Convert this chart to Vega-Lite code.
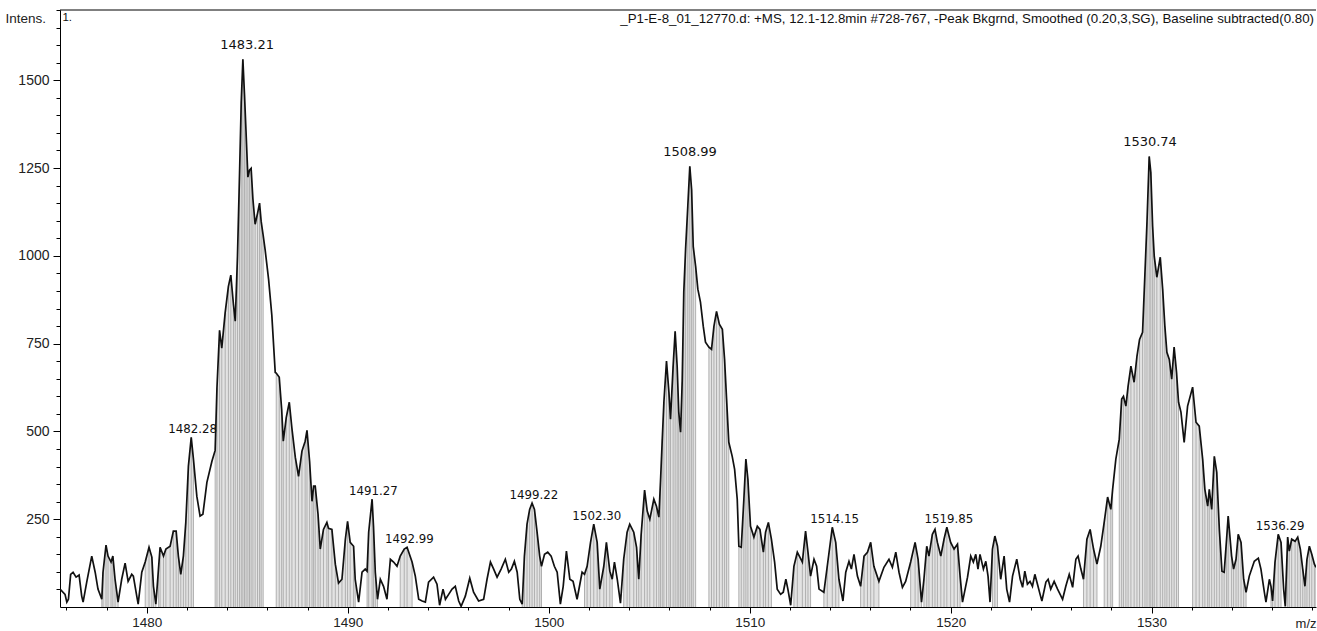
{
"$schema": "https://vega.github.io/schema/vega-lite/v6.json",
"width": 1256,
"height": 597,
"autosize": {"type": "none"},
"padding": {"left": 60, "top": 10, "right": 1, "bottom": 24},
"background": "white",
"config": {"view": {"stroke": null}, "font": "Liberation Sans"},
"datasets": {
"trace": [
{"mz":1475.68,"i":51,"g":0},{"mz":1475.93,"i":36,"g":0},{"mz":1476.02,"i":14,"g":0},{"mz":1476.10,"i":22,"g":0},{"mz":1476.21,"i":93,"g":0},{"mz":1476.33,"i":99,"g":0},{"mz":1476.48,"i":85,"g":0},{"mz":1476.63,"i":91,"g":0},{"mz":1476.76,"i":31,"g":0},{"mz":1476.83,"i":14,"g":0},
{"mz":1477.01,"i":71,"g":0},{"mz":1477.26,"i":145,"g":0},{"mz":1477.43,"i":99,"g":0},{"mz":1477.57,"i":51,"g":0},{"mz":1477.76,"i":22,"g":1},{"mz":1477.82,"i":99,"g":1},{"mz":1477.97,"i":176,"g":1},{"mz":1478.07,"i":145,"g":1},{"mz":1478.22,"i":128,"g":1},{"mz":1478.31,"i":145,"g":1},
{"mz":1478.42,"i":79,"g":1},{"mz":1478.57,"i":14,"g":1},{"mz":1478.75,"i":79,"g":0},{"mz":1478.92,"i":125,"g":0},{"mz":1479.07,"i":73,"g":0},{"mz":1479.25,"i":93,"g":0},{"mz":1479.33,"i":88,"g":0},{"mz":1479.50,"i":31,"g":0},{"mz":1479.57,"i":8,"g":0},{"mz":1479.75,"i":99,"g":0},
{"mz":1479.92,"i":128,"g":2},{"mz":1480.11,"i":170,"g":2},{"mz":1480.25,"i":142,"g":2},{"mz":1480.33,"i":59,"g":2},{"mz":1480.45,"i":8,"g":2},{"mz":1480.58,"i":108,"g":3},{"mz":1480.66,"i":170,"g":3},{"mz":1480.83,"i":145,"g":3},{"mz":1480.95,"i":165,"g":3},{"mz":1481.16,"i":173,"g":3},
{"mz":1481.32,"i":216,"g":3},{"mz":1481.46,"i":216,"g":3},{"mz":1481.57,"i":145,"g":3},{"mz":1481.69,"i":93,"g":3},{"mz":1481.82,"i":145,"g":3},{"mz":1481.94,"i":241,"g":3},{"mz":1482.07,"i":401,"g":3},{"mz":1482.21,"i":483,"g":3},{"mz":1482.32,"i":421,"g":3},{"mz":1482.49,"i":315,"g":0},
{"mz":1482.65,"i":259,"g":0},{"mz":1482.79,"i":264,"g":0},{"mz":1482.99,"i":355,"g":0},{"mz":1483.24,"i":415,"g":0},{"mz":1483.40,"i":446,"g":4},{"mz":1483.49,"i":623,"g":4},{"mz":1483.62,"i":788,"g":4},{"mz":1483.73,"i":737,"g":4},{"mz":1483.90,"i":839,"g":4},{"mz":1484.06,"i":913,"g":4},
{"mz":1484.18,"i":945,"g":4},{"mz":1484.31,"i":862,"g":4},{"mz":1484.40,"i":814,"g":4},{"mz":1484.51,"i":996,"g":4},{"mz":1484.61,"i":1224,"g":4},{"mz":1484.70,"i":1440,"g":4},{"mz":1484.78,"i":1560,"g":4},{"mz":1484.86,"i":1460,"g":4},{"mz":1484.94,"i":1349,"g":4},{"mz":1485.03,"i":1224,"g":4},
{"mz":1485.11,"i":1244,"g":4},{"mz":1485.19,"i":1249,"g":4},{"mz":1485.28,"i":1161,"g":4},{"mz":1485.39,"i":1090,"g":4},{"mz":1485.51,"i":1121,"g":4},{"mz":1485.61,"i":1150,"g":4},{"mz":1485.69,"i":1098,"g":4},{"mz":1485.79,"i":1058,"g":4},{"mz":1485.89,"i":1016,"g":0},{"mz":1486.06,"i":933,"g":0},
{"mz":1486.22,"i":831,"g":0},{"mz":1486.39,"i":668,"g":0},{"mz":1486.44,"i":666,"g":5},{"mz":1486.59,"i":654,"g":5},{"mz":1486.71,"i":563,"g":5},{"mz":1486.79,"i":472,"g":5},{"mz":1486.94,"i":540,"g":5},{"mz":1487.09,"i":583,"g":5},{"mz":1487.22,"i":509,"g":5},{"mz":1487.39,"i":426,"g":5},
{"mz":1487.55,"i":372,"g":5},{"mz":1487.72,"i":444,"g":5},{"mz":1487.88,"i":472,"g":5},{"mz":1487.97,"i":503,"g":5},{"mz":1488.10,"i":415,"g":5},{"mz":1488.22,"i":301,"g":5},{"mz":1488.30,"i":344,"g":5},{"mz":1488.38,"i":344,"g":5},{"mz":1488.52,"i":264,"g":5},{"mz":1488.63,"i":165,"g":5},
{"mz":1488.79,"i":221,"g":5},{"mz":1488.96,"i":241,"g":5},{"mz":1489.04,"i":224,"g":5},{"mz":1489.21,"i":221,"g":5},{"mz":1489.38,"i":122,"g":5},{"mz":1489.54,"i":68,"g":5},{"mz":1489.71,"i":79,"g":5},{"mz":1489.88,"i":193,"g":5},{"mz":1489.99,"i":244,"g":5},{"mz":1490.12,"i":184,"g":5},
{"mz":1490.29,"i":173,"g":5},{"mz":1490.37,"i":79,"g":5},{"mz":1490.54,"i":14,"g":0},{"mz":1490.71,"i":99,"g":0},{"mz":1490.87,"i":108,"g":0},{"mz":1490.96,"i":102,"g":6},{"mz":1491.04,"i":213,"g":6},{"mz":1491.21,"i":307,"g":6},{"mz":1491.28,"i":230,"g":6},{"mz":1491.37,"i":99,"g":6},
{"mz":1491.48,"i":22,"g":6},{"mz":1491.62,"i":79,"g":0},{"mz":1491.78,"i":59,"g":0},{"mz":1491.95,"i":22,"g":0},{"mz":1492.12,"i":136,"g":0},{"mz":1492.28,"i":128,"g":0},{"mz":1492.45,"i":116,"g":0},{"mz":1492.61,"i":145,"g":7},{"mz":1492.81,"i":165,"g":7},{"mz":1492.95,"i":170,"g":7},
{"mz":1493.20,"i":128,"g":7},{"mz":1493.36,"i":88,"g":0},{"mz":1493.53,"i":22,"g":0},{"mz":1493.70,"i":17,"g":0},{"mz":1493.86,"i":14,"g":0},{"mz":1494.02,"i":71,"g":0},{"mz":1494.27,"i":85,"g":0},{"mz":1494.44,"i":65,"g":0},{"mz":1494.57,"i":5,"g":0},{"mz":1494.74,"i":51,"g":0},
{"mz":1494.86,"i":22,"g":0},{"mz":1495.02,"i":36,"g":0},{"mz":1495.19,"i":51,"g":0},{"mz":1495.35,"i":59,"g":0},{"mz":1495.52,"i":17,"g":0},{"mz":1495.64,"i":2,"g":0},{"mz":1495.85,"i":31,"g":0},{"mz":1496.07,"i":82,"g":0},{"mz":1496.26,"i":42,"g":0},{"mz":1496.51,"i":17,"g":0},
{"mz":1496.76,"i":22,"g":0},{"mz":1496.93,"i":79,"g":0},{"mz":1497.10,"i":128,"g":0},{"mz":1497.26,"i":108,"g":0},{"mz":1497.43,"i":85,"g":0},{"mz":1497.63,"i":108,"g":0},{"mz":1497.84,"i":136,"g":0},{"mz":1498.01,"i":99,"g":0},{"mz":1498.14,"i":108,"g":0},{"mz":1498.29,"i":130,"g":0},
{"mz":1498.43,"i":99,"g":0},{"mz":1498.56,"i":22,"g":0},{"mz":1498.68,"i":8,"g":8},{"mz":1498.79,"i":145,"g":8},{"mz":1498.92,"i":236,"g":8},{"mz":1499.05,"i":278,"g":8},{"mz":1499.17,"i":296,"g":8},{"mz":1499.29,"i":278,"g":8},{"mz":1499.42,"i":213,"g":8},{"mz":1499.55,"i":145,"g":8},
{"mz":1499.64,"i":116,"g":8},{"mz":1499.79,"i":150,"g":0},{"mz":1499.95,"i":156,"g":0},{"mz":1500.12,"i":145,"g":0},{"mz":1500.28,"i":116,"g":0},{"mz":1500.42,"i":99,"g":0},{"mz":1500.58,"i":8,"g":0},{"mz":1500.72,"i":59,"g":0},{"mz":1500.88,"i":159,"g":0},{"mz":1501.05,"i":79,"g":0},
{"mz":1501.21,"i":73,"g":0},{"mz":1501.41,"i":22,"g":0},{"mz":1501.66,"i":99,"g":0},{"mz":1501.78,"i":93,"g":9},{"mz":1501.91,"i":116,"g":9},{"mz":1502.08,"i":184,"g":9},{"mz":1502.24,"i":236,"g":9},{"mz":1502.41,"i":184,"g":9},{"mz":1502.54,"i":51,"g":9},{"mz":1502.74,"i":116,"g":9},
{"mz":1502.87,"i":184,"g":9},{"mz":1503.04,"i":102,"g":9},{"mz":1503.16,"i":79,"g":9},{"mz":1503.27,"i":128,"g":0},{"mz":1503.41,"i":79,"g":0},{"mz":1503.57,"i":11,"g":0},{"mz":1503.73,"i":136,"g":10},{"mz":1503.90,"i":213,"g":10},{"mz":1504.03,"i":236,"g":10},{"mz":1504.23,"i":213,"g":10},
{"mz":1504.37,"i":170,"g":10},{"mz":1504.48,"i":79,"g":10},{"mz":1504.60,"i":207,"g":10},{"mz":1504.77,"i":333,"g":10},{"mz":1504.90,"i":273,"g":10},{"mz":1505.03,"i":250,"g":10},{"mz":1505.23,"i":307,"g":10},{"mz":1505.36,"i":287,"g":10},{"mz":1505.48,"i":256,"g":10},{"mz":1505.56,"i":355,"g":10},
{"mz":1505.65,"i":478,"g":10},{"mz":1505.73,"i":583,"g":10},{"mz":1505.86,"i":700,"g":10},{"mz":1505.98,"i":612,"g":10},{"mz":1506.06,"i":535,"g":10},{"mz":1506.19,"i":686,"g":10},{"mz":1506.29,"i":785,"g":10},{"mz":1506.39,"i":686,"g":10},{"mz":1506.47,"i":555,"g":10},{"mz":1506.56,"i":498,"g":10},
{"mz":1506.64,"i":640,"g":10},{"mz":1506.72,"i":896,"g":10},{"mz":1506.81,"i":1019,"g":10},{"mz":1506.92,"i":1141,"g":10},{"mz":1507.02,"i":1255,"g":10},{"mz":1507.11,"i":1189,"g":10},{"mz":1507.19,"i":1027,"g":10},{"mz":1507.31,"i":970,"g":10},{"mz":1507.42,"i":905,"g":0},{"mz":1507.55,"i":868,"g":0},
{"mz":1507.69,"i":799,"g":0},{"mz":1507.80,"i":754,"g":0},{"mz":1507.97,"i":740,"g":11},{"mz":1508.10,"i":734,"g":11},{"mz":1508.22,"i":799,"g":11},{"mz":1508.35,"i":842,"g":11},{"mz":1508.49,"i":805,"g":11},{"mz":1508.64,"i":791,"g":11},{"mz":1508.75,"i":705,"g":11},{"mz":1508.85,"i":592,"g":11},
{"mz":1508.96,"i":469,"g":11},{"mz":1509.13,"i":429,"g":0},{"mz":1509.25,"i":392,"g":0},{"mz":1509.38,"i":307,"g":0},{"mz":1509.46,"i":173,"g":12},{"mz":1509.58,"i":170,"g":12},{"mz":1509.71,"i":307,"g":12},{"mz":1509.81,"i":421,"g":12},{"mz":1509.91,"i":364,"g":12},{"mz":1510.04,"i":230,"g":12},
{"mz":1510.21,"i":199,"g":12},{"mz":1510.38,"i":230,"g":12},{"mz":1510.51,"i":221,"g":12},{"mz":1510.68,"i":156,"g":12},{"mz":1510.79,"i":213,"g":12},{"mz":1510.93,"i":241,"g":12},{"mz":1511.08,"i":193,"g":12},{"mz":1511.24,"i":128,"g":0},{"mz":1511.37,"i":51,"g":0},{"mz":1511.54,"i":36,"g":0},
{"mz":1511.67,"i":42,"g":0},{"mz":1511.80,"i":79,"g":0},{"mz":1511.90,"i":51,"g":0},{"mz":1512.04,"i":5,"g":0},{"mz":1512.20,"i":116,"g":13},{"mz":1512.37,"i":156,"g":13},{"mz":1512.62,"i":128,"g":13},{"mz":1512.78,"i":216,"g":13},{"mz":1512.90,"i":156,"g":13},{"mz":1513.03,"i":88,"g":13},
{"mz":1513.20,"i":136,"g":0},{"mz":1513.33,"i":116,"g":0},{"mz":1513.45,"i":51,"g":0},{"mz":1513.69,"i":42,"g":14},{"mz":1513.86,"i":116,"g":14},{"mz":1514.11,"i":227,"g":14},{"mz":1514.28,"i":184,"g":14},{"mz":1514.44,"i":79,"g":14},{"mz":1514.64,"i":17,"g":0},{"mz":1514.78,"i":99,"g":0},
{"mz":1514.94,"i":130,"g":0},{"mz":1515.06,"i":108,"g":0},{"mz":1515.19,"i":150,"g":0},{"mz":1515.36,"i":88,"g":0},{"mz":1515.52,"i":59,"g":15},{"mz":1515.69,"i":145,"g":15},{"mz":1515.86,"i":156,"g":15},{"mz":1516.02,"i":184,"g":15},{"mz":1516.18,"i":116,"g":15},{"mz":1516.43,"i":73,"g":15},
{"mz":1516.68,"i":113,"g":0},{"mz":1516.93,"i":136,"g":0},{"mz":1517.10,"i":113,"g":0},{"mz":1517.27,"i":156,"g":0},{"mz":1517.43,"i":99,"g":0},{"mz":1517.60,"i":56,"g":0},{"mz":1517.76,"i":73,"g":0},{"mz":1518.01,"i":128,"g":16},{"mz":1518.23,"i":184,"g":16},{"mz":1518.38,"i":136,"g":16},
{"mz":1518.55,"i":14,"g":16},{"mz":1518.67,"i":79,"g":17},{"mz":1518.81,"i":173,"g":17},{"mz":1518.92,"i":145,"g":17},{"mz":1519.09,"i":207,"g":17},{"mz":1519.22,"i":221,"g":17},{"mz":1519.34,"i":184,"g":17},{"mz":1519.51,"i":145,"g":17},{"mz":1519.67,"i":193,"g":17},{"mz":1519.81,"i":227,"g":17},
{"mz":1520.00,"i":184,"g":17},{"mz":1520.17,"i":165,"g":17},{"mz":1520.34,"i":179,"g":17},{"mz":1520.47,"i":88,"g":17},{"mz":1520.59,"i":14,"g":0},{"mz":1520.84,"i":85,"g":0},{"mz":1521.00,"i":145,"g":0},{"mz":1521.13,"i":128,"g":0},{"mz":1521.25,"i":150,"g":0},{"mz":1521.36,"i":108,"g":0},
{"mz":1521.46,"i":150,"g":0},{"mz":1521.63,"i":108,"g":0},{"mz":1521.75,"i":130,"g":0},{"mz":1521.86,"i":88,"g":0},{"mz":1521.96,"i":14,"g":0},{"mz":1522.08,"i":165,"g":18},{"mz":1522.20,"i":202,"g":18},{"mz":1522.33,"i":173,"g":18},{"mz":1522.49,"i":79,"g":0},{"mz":1522.66,"i":145,"g":0},
{"mz":1522.79,"i":51,"g":0},{"mz":1522.93,"i":14,"g":0},{"mz":1523.08,"i":88,"g":0},{"mz":1523.29,"i":136,"g":0},{"mz":1523.46,"i":79,"g":0},{"mz":1523.58,"i":56,"g":0},{"mz":1523.69,"i":102,"g":0},{"mz":1523.82,"i":65,"g":0},{"mz":1523.95,"i":73,"g":0},{"mz":1524.07,"i":59,"g":0},
{"mz":1524.19,"i":93,"g":0},{"mz":1524.32,"i":65,"g":0},{"mz":1524.45,"i":36,"g":0},{"mz":1524.54,"i":17,"g":0},{"mz":1524.74,"i":71,"g":0},{"mz":1524.85,"i":79,"g":0},{"mz":1524.98,"i":51,"g":0},{"mz":1525.15,"i":73,"g":0},{"mz":1525.32,"i":51,"g":0},{"mz":1525.57,"i":22,"g":0},
{"mz":1525.73,"i":59,"g":0},{"mz":1525.90,"i":93,"g":0},{"mz":1526.07,"i":56,"g":0},{"mz":1526.23,"i":136,"g":0},{"mz":1526.34,"i":145,"g":0},{"mz":1526.48,"i":108,"g":0},{"mz":1526.61,"i":79,"g":19},{"mz":1526.78,"i":193,"g":19},{"mz":1526.94,"i":221,"g":19},{"mz":1527.11,"i":165,"g":19},
{"mz":1527.28,"i":122,"g":19},{"mz":1527.47,"i":173,"g":0},{"mz":1527.64,"i":241,"g":20},{"mz":1527.81,"i":313,"g":20},{"mz":1527.97,"i":278,"g":20},{"mz":1528.06,"i":335,"g":20},{"mz":1528.22,"i":421,"g":0},{"mz":1528.39,"i":478,"g":21},{"mz":1528.51,"i":592,"g":21},{"mz":1528.60,"i":600,"g":21},
{"mz":1528.72,"i":572,"g":21},{"mz":1528.83,"i":629,"g":21},{"mz":1528.97,"i":686,"g":21},{"mz":1529.13,"i":640,"g":21},{"mz":1529.27,"i":714,"g":21},{"mz":1529.40,"i":762,"g":21},{"mz":1529.55,"i":782,"g":21},{"mz":1529.67,"i":953,"g":21},{"mz":1529.77,"i":1096,"g":21},{"mz":1529.88,"i":1283,"g":21},
{"mz":1529.96,"i":1238,"g":21},{"mz":1530.05,"i":1084,"g":21},{"mz":1530.13,"i":999,"g":21},{"mz":1530.26,"i":939,"g":21},{"mz":1530.43,"i":996,"g":21},{"mz":1530.55,"i":905,"g":21},{"mz":1530.66,"i":799,"g":21},{"mz":1530.76,"i":725,"g":21},{"mz":1530.88,"i":705,"g":21},{"mz":1531.00,"i":649,"g":21},
{"mz":1531.12,"i":740,"g":21},{"mz":1531.24,"i":668,"g":21},{"mz":1531.34,"i":583,"g":21},{"mz":1531.46,"i":555,"g":0},{"mz":1531.62,"i":469,"g":0},{"mz":1531.79,"i":572,"g":0},{"mz":1532.04,"i":626,"g":22},{"mz":1532.21,"i":526,"g":22},{"mz":1532.37,"i":515,"g":22},{"mz":1532.54,"i":421,"g":22},
{"mz":1532.65,"i":335,"g":22},{"mz":1532.79,"i":287,"g":22},{"mz":1532.87,"i":335,"g":22},{"mz":1532.99,"i":278,"g":22},{"mz":1533.12,"i":429,"g":22},{"mz":1533.24,"i":384,"g":22},{"mz":1533.37,"i":221,"g":22},{"mz":1533.50,"i":102,"g":22},{"mz":1533.61,"i":99,"g":22},{"mz":1533.73,"i":193,"g":22},
{"mz":1533.81,"i":259,"g":22},{"mz":1533.98,"i":145,"g":22},{"mz":1534.08,"i":108,"g":22},{"mz":1534.20,"i":136,"g":22},{"mz":1534.31,"i":207,"g":22},{"mz":1534.45,"i":184,"g":22},{"mz":1534.58,"i":79,"g":22},{"mz":1534.70,"i":42,"g":22},{"mz":1534.86,"i":88,"g":0},{"mz":1535.11,"i":130,"g":0},
{"mz":1535.31,"i":139,"g":0},{"mz":1535.44,"i":108,"g":0},{"mz":1535.61,"i":42,"g":0},{"mz":1535.69,"i":14,"g":0},{"mz":1535.86,"i":79,"g":0},{"mz":1535.94,"i":59,"g":23},{"mz":1536.02,"i":17,"g":23},{"mz":1536.14,"i":128,"g":23},{"mz":1536.30,"i":207,"g":23},{"mz":1536.44,"i":184,"g":23},
{"mz":1536.57,"i":51,"g":0},{"mz":1536.65,"i":2,"g":24},{"mz":1536.77,"i":199,"g":24},{"mz":1536.85,"i":159,"g":24},{"mz":1536.97,"i":193,"g":24},{"mz":1537.14,"i":187,"g":24},{"mz":1537.27,"i":199,"g":24},{"mz":1537.40,"i":165,"g":24},{"mz":1537.52,"i":108,"g":24},{"mz":1537.63,"i":59,"g":24},
{"mz":1537.73,"i":136,"g":24},{"mz":1537.85,"i":173,"g":24},{"mz":1537.97,"i":150,"g":24},{"mz":1538.10,"i":122,"g":24},{"mz":1538.18,"i":113,"g":24}
],
"peaks": [
{"mz":1484.99,"i":1560,"label":"1483.21","kind":"major"},
{"mz":1507.03,"i":1255,"label":"1508.99","kind":"major"},
{"mz":1529.92,"i":1283,"label":"1530.74","kind":"major"},
{"mz":1482.28,"i":483,"label":"1482.28","kind":"minor"},
{"mz":1491.27,"i":307,"label":"1491.27","kind":"minor"},
{"mz":1493.06,"i":170,"label":"1492.99","kind":"minor"},
{"mz":1499.26,"i":296,"label":"1499.22","kind":"minor"},
{"mz":1502.39,"i":236,"label":"1502.30","kind":"minor"},
{"mz":1514.23,"i":227,"label":"1514.15","kind":"minor"},
{"mz":1519.91,"i":227,"label":"1519.85","kind":"minor"},
{"mz":1536.39,"i":207,"label":"1536.29","kind":"minor"}
]
},
"layer": [
{
"data": {"name": "trace"},
"transform": [{"filter": "datum.g > 0"}],
"mark": {"type": "area", "color": "#e3e3e3", "clip": true},
"encoding": {
"x": {"field": "mz", "type": "quantitative",
"scale": {"domain": [1475.68, 1538.18], "nice": false, "zero": false},
"axis": {
"values": [1476,1478,1480,1482,1484,1486,1488,1490,1492,1494,1496,1498,1500,1502,1504,1506,1508,1510,1512,1514,1516,1518,1520,1522,1524,1526,1528,1530,1532,1534,1536,1538],
"tickCount": 200,
"format": "d",
"labelExpr": "datum.value % 10 === 0 ? datum.label : ''",
"labelOverlap": false,
"labelFont": "Liberation Sans",
"labelFontSize": 13.5,
"labelColor": "#222222",
"labelPadding": 2,
"tickSize": {"condition": {"test": "datum.value % 10 === 0", "value": 6}, "value": 3},
"tickColor": "#000000",
"domainColor": "#000000",
"grid": false,
"title": "m/z",
"titleFont": "Liberation Sans",
"titleFontSize": 13,
"titleFontWeight": "normal",
"titleColor": "#222222",
"titleX": 1256,
"titleY": 16,
"titleAlign": "right",
"titleBaseline": "middle"
}},
"y": {"field": "i", "type": "quantitative",
"stack": null,
"scale": {"domain": [0, 1700], "nice": false},
"axis": {
"values": [50,100,150,200,250,300,350,400,450,500,550,600,650,700,750,800,850,900,950,1000,1050,1100,1150,1200,1250,1300,1350,1400,1450,1500,1550,1600,1650,1700],
"tickCount": 200,
"format": "d",
"labelExpr": "datum.value % 250 === 0 ? datum.label : ''",
"labelOverlap": false,
"labelFont": "Liberation Sans",
"labelFontSize": 14,
"labelColor": "#222222",
"labelPadding": 4,
"tickSize": {"condition": {"test": "datum.value % 250 === 0", "value": 7}, "value": 4},
"tickColor": "#000000",
"domainColor": "#000000",
"grid": false,
"title": "Intens.",
"titleFont": "Liberation Sans",
"titleFontSize": 13.5,
"titleFontWeight": "normal",
"titleColor": "#222222",
"titleAngle": 0,
"titleX": -55,
"titleY": 8,
"titleAlign": "left",
"titleBaseline": "middle"
}},
"detail": {"field": "g", "type": "nominal"}
}
},
{
"data": {"name": "trace"},
"transform": [{"filter": "datum.g > 0"}],
"mark": {"type": "rule", "color": "#b0b0b0", "strokeWidth": 1, "clip": true},
"encoding": {
"x": {"field": "mz", "type": "quantitative"},
"y": {"field": "i", "type": "quantitative"},
"y2": {"datum": 0}
}
},
{
"data": {"name": "trace"},
"mark": {"type": "line", "color": "#111111", "strokeWidth": 1.7, "clip": true},
"encoding": {
"x": {"field": "mz", "type": "quantitative"},
"y": {"field": "i", "type": "quantitative"}
}
},
{
"data": {"values": [{}]},
"mark": {"type": "rule", "color": "#000000", "strokeWidth": 1},
"encoding": {"y": {"datum": 1700}}
},
{
"data": {"name": "peaks"},
"transform": [{"filter": "datum.kind === 'major'"}],
"mark": {"type": "text", "font": "DejaVu Sans", "fontSize": 13, "color": "#111111", "baseline": "alphabetic", "align": "center", "dy": -10},
"encoding": {
"x": {"field": "mz", "type": "quantitative"},
"y": {"field": "i", "type": "quantitative"},
"text": {"field": "label"}
}
},
{
"data": {"name": "peaks"},
"transform": [{"filter": "datum.kind === 'minor'"}],
"mark": {"type": "text", "font": "DejaVu Sans", "fontSize": 11.8, "color": "#111111", "baseline": "alphabetic", "align": "center", "dy": -4},
"encoding": {
"x": {"field": "mz", "type": "quantitative"},
"y": {"field": "i", "type": "quantitative"},
"text": {"field": "label"}
}
},
{
"data": {"values": [{"note": "1."}]},
"mark": {"type": "text", "font": "Liberation Sans", "fontSize": 11.5, "color": "#111111", "baseline": "middle", "align": "left"},
"encoding": {
"x": {"datum": 1475.8},
"y": {"datum": 1677},
"text": {"field": "note"}
}
},
{
"data": {"values": [{"note": "_P1-E-8_01_12770.d: +MS, 12.1-12.8min #728-767, -Peak Bkgrnd, Smoothed (0.20,3,SG), Baseline subtracted(0.80)"}]},
"mark": {"type": "text", "font": "Liberation Sans", "fontSize": 13.3, "color": "#111111", "baseline": "middle", "align": "right"},
"encoding": {
"x": {"datum": 1538.08},
"y": {"datum": 1675},
"text": {"field": "note"}
}
}
]
}
